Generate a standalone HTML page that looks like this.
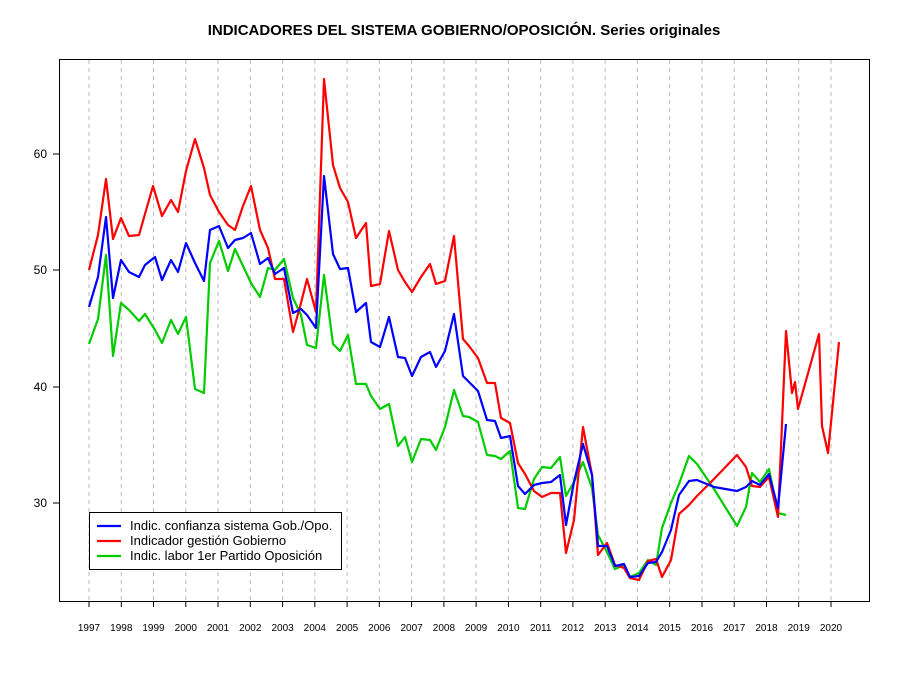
<!DOCTYPE html>
<html><head><meta charset="utf-8"><style>body{margin:0;background:#fff}svg{display:block;font-family:"Liberation Sans",Arial,sans-serif}</style></head><body>
<svg width="900" height="675" viewBox="0 0 900 675" xmlns="http://www.w3.org/2000/svg">
<rect width="900" height="675" fill="#fff"/>
<text x="464" y="35" text-anchor="middle" font-size="15" font-weight="bold">INDICADORES DEL SISTEMA GOBIERNO/OPOSICIÓN. Series originales</text>
<g stroke="#bbb" stroke-dasharray="4,4" stroke-width="1">
<line x1="89" y1="60" x2="89" y2="601"/><line x1="121.3" y1="60" x2="121.3" y2="601"/><line x1="153.5" y1="60" x2="153.5" y2="601"/><line x1="185.8" y1="60" x2="185.8" y2="601"/><line x1="218" y1="60" x2="218" y2="601"/><line x1="250.3" y1="60" x2="250.3" y2="601"/><line x1="282.6" y1="60" x2="282.6" y2="601"/><line x1="314.8" y1="60" x2="314.8" y2="601"/><line x1="347.1" y1="60" x2="347.1" y2="601"/><line x1="379.3" y1="60" x2="379.3" y2="601"/><line x1="411.6" y1="60" x2="411.6" y2="601"/><line x1="443.9" y1="60" x2="443.9" y2="601"/><line x1="476.1" y1="60" x2="476.1" y2="601"/><line x1="508.4" y1="60" x2="508.4" y2="601"/><line x1="540.7" y1="60" x2="540.7" y2="601"/><line x1="572.9" y1="60" x2="572.9" y2="601"/><line x1="605.2" y1="60" x2="605.2" y2="601"/><line x1="637.4" y1="60" x2="637.4" y2="601"/><line x1="669.7" y1="60" x2="669.7" y2="601"/><line x1="702" y1="60" x2="702" y2="601"/><line x1="734.2" y1="60" x2="734.2" y2="601"/><line x1="766.5" y1="60" x2="766.5" y2="601"/><line x1="798.7" y1="60" x2="798.7" y2="601"/><line x1="831" y1="60" x2="831" y2="601"/>
</g>
<rect x="59.5" y="59.5" width="810" height="542" fill="none" stroke="#000"/>
<g stroke="#000"><line x1="59" y1="154" x2="53" y2="154"/><line x1="59" y1="270" x2="53" y2="270"/><line x1="59" y1="387" x2="53" y2="387"/><line x1="59" y1="503" x2="53" y2="503"/></g>
<g font-size="12" text-anchor="end"><text x="47" y="158">60</text><text x="47" y="274">50</text><text x="47" y="391">40</text><text x="47" y="507">30</text></g>
<g stroke="#000">
<line x1="89" y1="602" x2="89" y2="607"/><line x1="121.3" y1="602" x2="121.3" y2="607"/><line x1="153.5" y1="602" x2="153.5" y2="607"/><line x1="185.8" y1="602" x2="185.8" y2="607"/><line x1="218" y1="602" x2="218" y2="607"/><line x1="250.3" y1="602" x2="250.3" y2="607"/><line x1="282.6" y1="602" x2="282.6" y2="607"/><line x1="314.8" y1="602" x2="314.8" y2="607"/><line x1="347.1" y1="602" x2="347.1" y2="607"/><line x1="379.3" y1="602" x2="379.3" y2="607"/><line x1="411.6" y1="602" x2="411.6" y2="607"/><line x1="443.9" y1="602" x2="443.9" y2="607"/><line x1="476.1" y1="602" x2="476.1" y2="607"/><line x1="508.4" y1="602" x2="508.4" y2="607"/><line x1="540.7" y1="602" x2="540.7" y2="607"/><line x1="572.9" y1="602" x2="572.9" y2="607"/><line x1="605.2" y1="602" x2="605.2" y2="607"/><line x1="637.4" y1="602" x2="637.4" y2="607"/><line x1="669.7" y1="602" x2="669.7" y2="607"/><line x1="702" y1="602" x2="702" y2="607"/><line x1="734.2" y1="602" x2="734.2" y2="607"/><line x1="766.5" y1="602" x2="766.5" y2="607"/><line x1="798.7" y1="602" x2="798.7" y2="607"/><line x1="831" y1="602" x2="831" y2="607"/>
</g>
<g font-size="10" text-anchor="middle">
<text x="89" y="631">1997</text><text x="121.3" y="631">1998</text><text x="153.5" y="631">1999</text><text x="185.8" y="631">2000</text><text x="218" y="631">2001</text><text x="250.3" y="631">2002</text><text x="282.6" y="631">2003</text><text x="314.8" y="631">2004</text><text x="347.1" y="631">2005</text><text x="379.3" y="631">2006</text><text x="411.6" y="631">2007</text><text x="443.9" y="631">2008</text><text x="476.1" y="631">2009</text><text x="508.4" y="631">2010</text><text x="540.7" y="631">2011</text><text x="572.9" y="631">2012</text><text x="605.2" y="631">2013</text><text x="637.4" y="631">2014</text><text x="669.7" y="631">2015</text><text x="702" y="631">2016</text><text x="734.2" y="631">2017</text><text x="766.5" y="631">2018</text><text x="798.7" y="631">2019</text><text x="831" y="631">2020</text>
</g>
<g fill="none" stroke-width="2.2" stroke-linejoin="round">
<polyline stroke="#00cc00" points="89,344 98,319 106,255 113,356 121,303 129,310 139,321 145,314 155,330 162,343 171,320 178,334 186,317 195,389 204,393 210,263 219,241 228,271 235,249 243,266 251,283 260,297 268,268 275,270 284,259 293,298 301,315 307,345 316,348 324,275 333,344 340,351 348,335 356,384 366,384 371,396 380,409 389,404 398,446 405,437 412,462 421,439 430,440 436,450 445,427 454,390 463,416 469,417 478,422 487,455 495,456 501,459 510,451 518,508 525,509 534,479 542,467 551,468 560,457 566,496 574,482 583,462 592,488 598,535 607,552 615,569 624,565 630,577 639,573 648,560 656,565 662,528 671,503 679,484 689,456 697,464 714,489 737,526 746,507 752,473 760,482 769,469 778,513 786,515"/>
<polyline stroke="#ff0000" points="89,270 98,235 106,179 113,239 121,218 129,236 139,235 153,186 162,216 171,200 178,212 186,171 195,139 204,168 210,195 219,212 228,225 235,230 243,206 251,186 260,230 268,248 275,279 284,279 293,332 301,303 307,279 316,312 324,79 333,165 340,188 348,202 356,238 366,223 371,286 380,284 389,231 398,270 405,282 412,292 421,277 430,264 436,284 445,281 454,236 463,339 469,346 478,358 487,383 495,383 501,418 510,423 518,463 525,474 534,491 542,497 551,493 560,493 566,553 574,520 583,427 592,475 598,555 607,543 615,565 624,568 630,578 639,580 648,561 656,559 662,577 671,560 679,514 689,505 697,496 714,479 737,455 746,467 752,486 760,487 769,477 778,517 786,331 792,393 795,382 798,409 819,334 822,426 828,453 839,342"/>
<polyline stroke="#0000ff" points="89,307 98,277 106,217 113,298 121,260 129,272 139,277 145,265 155,257 162,280 171,260 178,272 186,243 195,263 204,281 210,230 219,226 228,248 235,240 243,238 251,233 260,264 268,258 275,274 284,268 293,313 301,309 307,315 316,328 324,176 333,254 340,269 348,268 356,312 366,303 371,342 380,347 389,317 398,357 405,358 412,376 421,357 430,352 436,367 445,351 454,314 463,376 469,382 478,391 487,420 495,421 501,438 510,436 518,486 525,494 534,485 542,483 551,482 560,475 566,525 574,482 583,444 592,475 598,546 607,546 615,566 624,564 630,577 639,576 648,563 656,562 662,552 671,530 679,495 689,481 697,480 714,487 737,491 746,487 752,481 760,485 769,474 778,508 786,424"/>
</g>
<rect x="89.5" y="512.5" width="252" height="57" fill="#fff" stroke="#000"/>
<g stroke-width="2.2"><line x1="97" y1="526" x2="121" y2="526" stroke="#0000ff"/><line x1="97" y1="541" x2="121" y2="541" stroke="#ff0000"/><line x1="97" y1="556" x2="121" y2="556" stroke="#00cc00"/></g>
<g font-size="13"><text x="130" y="530">Indic. confianza sistema Gob./Opo.</text><text x="130" y="545">Indicador gestión Gobierno</text><text x="130" y="560">Indic. labor 1er Partido Oposición</text></g>
</svg>
</body></html>
